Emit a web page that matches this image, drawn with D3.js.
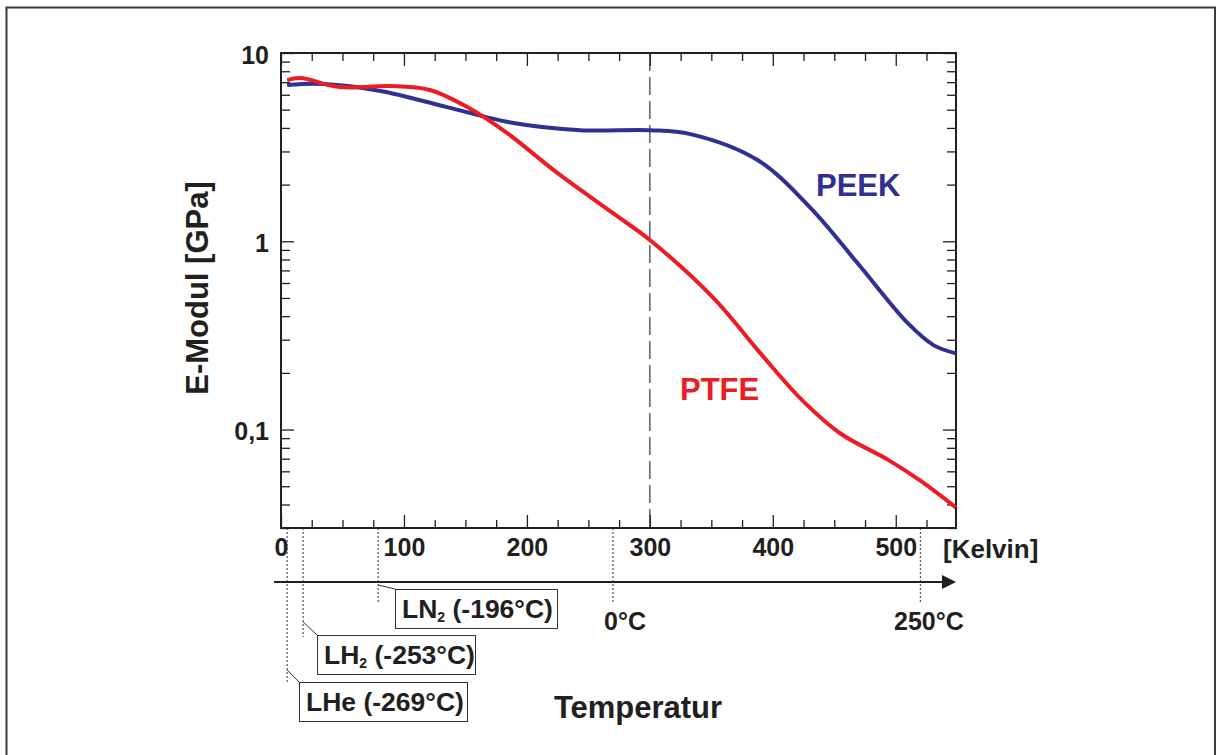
<!DOCTYPE html>
<html>
<head>
<meta charset="utf-8">
<script src="https://cdn.jsdelivr.net/npm/d3@7"></script>
<style>
  body { margin: 0; background: #fff; }
  text { font-family: "Liberation Sans", Arial, sans-serif; font-weight: bold; fill: #231f20; }
</style>
</head>
<body>
<svg id="chart"></svg>
<script>
// Chart data (Temperatur in Kelvin, E-Modul in GPa)
const ptfeTemp = [5, 15.5, 48, 89, 121, 151.5, 184, 225, 270, 300.5, 352, 390, 422.6, 455, 493.5, 520, 549];
const ptfeModul = [7.18, 7.36, 6.59, 6.67, 6.36, 5.16, 3.75, 2.30, 1.41, 1.01, 0.498, 0.254, 0.146, 0.0953, 0.0692, 0.0535, 0.0385];
const peekTemp = [5, 35, 81, 135, 189, 243.5, 300, 333, 387.6, 430.8, 469, 510, 531, 549];
const peekModul = [6.76, 6.84, 6.28, 5.16, 4.25, 3.89, 3.89, 3.71, 2.70, 1.50, 0.764, 0.366, 0.280, 0.254];

const xTicks = [0, 100, 200, 300, 400, 500];
const xMinorTicks = [25, 50, 75, 125, 150, 175, 225, 250, 275, 325, 350, 375, 425, 450, 475, 525];
const yTicks = [0.1, 1, 10];
const yTickLabels = ["0,1", "1", "10"];
const yMinorTicks = [0.03, 0.04, 0.05, 0.06, 0.07, 0.08, 0.09, 0.2, 0.3, 0.4, 0.5, 0.6, 0.7, 0.8, 0.9, 2, 3, 4, 5, 6, 7, 8, 9];

// marker temperatures (K) for the cryogenic liquids and Celsius marks
const cryoNames = ["LHe", "LH", "LN"];
const cryoSub = ["", "2", "2"];
const cryoCelsius = ["(-269°C)", "(-253°C)", "(-196°C)"];
const cryoTemp = [5, 18, 79];
const celsiusLabels = ["0°C", "250°C"];
const celsiusTemp = [270, 520];
const refTemp = 300;

const width = 1216;
const height = 755;
const margin = { top: 53, right: 260, bottom: 227, left: 281 };

const svg = d3.select("#chart")
    .attr("width", width)
    .attr("height", height);

// outer frame
svg.append("rect")
    .attr("x", 6.5).attr("y", 7.5)
    .attr("width", 1208.5).attr("height", 800)
    .attr("fill", "none").attr("stroke", "#3a3a3a").attr("stroke-width", 2);

const xScale = d3.scaleLinear()
    .domain([0, 549])
    .range([margin.left, width - margin.right]);

const yScale = d3.scaleLog()
    .domain([0.03, 10])
    .range([height - margin.bottom, margin.top]);

const x0 = xScale.range()[0], x1 = xScale.range()[1];
const y0 = yScale.range()[0], y1 = yScale.range()[1];

function styleAxis(g) {
    g.select(".domain").remove();
    g.selectAll(".tick line").attr("stroke", "#231f20").attr("stroke-width", 1.3);
}

// bottom axis with labels
svg.append("g")
    .attr("transform", `translate(0,${y0})`)
    .call(d3.axisBottom(xScale).tickValues(xTicks).tickSize(-13).tickPadding(10).tickFormat(d3.format("d")))
    .call(styleAxis)
    .call(g => g.selectAll("text").style("font-size", "25px").style("font-family", "Liberation Sans, Arial").style("font-weight", "bold").attr("fill", "#231f20"));
svg.append("g")
    .attr("transform", `translate(0,${y0})`)
    .call(d3.axisBottom(xScale).tickValues(xMinorTicks).tickSize(-8).tickFormat(""))
    .call(styleAxis);
// top axis
svg.append("g")
    .attr("transform", `translate(0,${y1})`)
    .call(d3.axisTop(xScale).tickValues(xTicks).tickSize(-13).tickFormat(""))
    .call(styleAxis);
svg.append("g")
    .attr("transform", `translate(0,${y1})`)
    .call(d3.axisTop(xScale).tickValues(xMinorTicks).tickSize(-8).tickFormat(""))
    .call(styleAxis);

// left axis with labels
svg.append("g")
    .attr("transform", `translate(${x0},0)`)
    .call(d3.axisLeft(yScale).tickValues(yTicks).tickSize(-13).tickPadding(12).tickFormat((d, i) => yTickLabels[i]))
    .call(styleAxis)
    .call(g => g.selectAll("text").style("font-size", "25px").style("font-family", "Liberation Sans, Arial").style("font-weight", "bold").attr("fill", "#231f20").attr("dy", "0.4em"));
svg.append("g")
    .attr("transform", `translate(${x0},0)`)
    .call(d3.axisLeft(yScale).tickValues(yMinorTicks).tickSize(-9).tickFormat(""))
    .call(styleAxis);
// right axis
svg.append("g")
    .attr("transform", `translate(${x1},0)`)
    .call(d3.axisRight(yScale).tickValues(yTicks).tickSize(-13).tickFormat(""))
    .call(styleAxis);
svg.append("g")
    .attr("transform", `translate(${x1},0)`)
    .call(d3.axisRight(yScale).tickValues(yMinorTicks).tickSize(-9).tickFormat(""))
    .call(styleAxis);

// plot border
svg.append("rect")
    .attr("x", x0).attr("y", y1)
    .attr("width", x1 - x0).attr("height", y0 - y1)
    .attr("fill", "none").attr("stroke", "#231f20").attr("stroke-width", 2);

// dashed line at room temperature
svg.append("line")
    .attr("x1", xScale(refTemp)).attr("x2", xScale(refTemp))
    .attr("y1", y1).attr("y2", y0)
    .attr("stroke", "#333").attr("stroke-width", 1.2)
    .attr("stroke-dasharray", "18,6");

// curves
const line = d3.line()
    .x(d => xScale(d[0]))
    .y(d => yScale(d[1]))
    .curve(d3.curveCatmullRom.alpha(0.5));

const peek = peekTemp.map((t, i) => [t, peekModul[i]]);
const ptfe = ptfeTemp.map((t, i) => [t, ptfeModul[i]]);

svg.append("path")
    .datum(peek)
    .attr("d", line)
    .attr("fill", "none").attr("stroke", "#2e3192").attr("stroke-width", 4);
svg.append("path")
    .datum(ptfe)
    .attr("d", line)
    .attr("fill", "none").attr("stroke", "#ed1c24").attr("stroke-width", 4);

svg.append("text").attr("x", 816).attr("y", 196)
    .style("font-size", "31px").style("fill", "#2e3192").text("PEEK");
svg.append("text").attr("x", 680).attr("y", 400)
    .style("font-size", "31px").style("fill", "#ed1c24").text("PTFE");

// [Kelvin] unit label
svg.append("text").attr("x", 943).attr("y", y0 + 30)
    .style("font-size", "26px").text("[Kelvin]");

// temperature arrow
const arrowY = 582;
svg.append("line")
    .attr("x1", 274).attr("x2", 944)
    .attr("y1", arrowY).attr("y2", arrowY)
    .attr("stroke", "#231f20").attr("stroke-width", 2);
svg.append("path")
    .attr("d", `M942,${arrowY - 7}L956,${arrowY}L942,${arrowY + 7}Z`)
    .attr("fill", "#231f20");

// Celsius marks
celsiusTemp.forEach((t, i) => {
    const x = xScale(t);
    svg.append("line")
        .attr("x1", x).attr("x2", x).attr("y1", y0).attr("y2", 603)
        .attr("stroke", "#333").attr("stroke-width", 1).attr("stroke-dasharray", "2,2");
});
svg.append("text").attr("x", 604).attr("y", 630).style("font-size", "25px").text(celsiusLabels[0]);
svg.append("text").attr("x", 894).attr("y", 630).style("font-size", "25px").text(celsiusLabels[1]);

// cryogenic liquid boxes
const boxes = [
    { lineEnd: 683, lead: [670, 299, 682], box: [299, 682, 168, 39] },
    { lineEnd: 637, lead: [622, 317, 635], box: [317, 635, 158, 39] },
    { lineEnd: 604, lead: [585, 395, 589], box: [395, 589, 162, 39] }
];
cryoTemp.forEach((t, i) => {
    const x = xScale(t);
    const b = boxes[i];
    svg.append("line")
        .attr("x1", x).attr("x2", x).attr("y1", y0).attr("y2", b.lineEnd)
        .attr("stroke", "#333").attr("stroke-width", 1).attr("stroke-dasharray", "2,2");
    svg.append("line")
        .attr("x1", x).attr("y1", b.lead[0]).attr("x2", b.lead[1]).attr("y2", b.lead[2])
        .attr("stroke", "#333").attr("stroke-width", 1);
    svg.append("rect")
        .attr("x", b.box[0] + 0.5).attr("y", b.box[1] + 0.5)
        .attr("width", b.box[2]).attr("height", b.box[3])
        .attr("fill", "#fff").attr("stroke", "#333").attr("stroke-width", 1);
    const txt = svg.append("text")
        .attr("x", b.box[0] + 7).attr("y", b.box[1] + 29)
        .style("font-size", "26.5px");
    txt.append("tspan").text(cryoNames[i]);
    if (cryoSub[i]) {
        txt.append("tspan").attr("dy", 4).style("font-size", "14px").text(cryoSub[i]);
        txt.append("tspan").attr("dy", -4).text(" " + cryoCelsius[i]);
    } else {
        txt.append("tspan").text(" " + cryoCelsius[i]);
    }
});

// axis titles
svg.append("text")
    .attr("x", 638).attr("y", 718)
    .attr("text-anchor", "middle")
    .style("font-size", "31px").text("Temperatur");
svg.append("text")
    .attr("transform", "translate(208,288) rotate(-90)")
    .attr("text-anchor", "middle")
    .style("font-size", "31px").text("E-Modul [GPa]");
</script>
</body>
</html>
